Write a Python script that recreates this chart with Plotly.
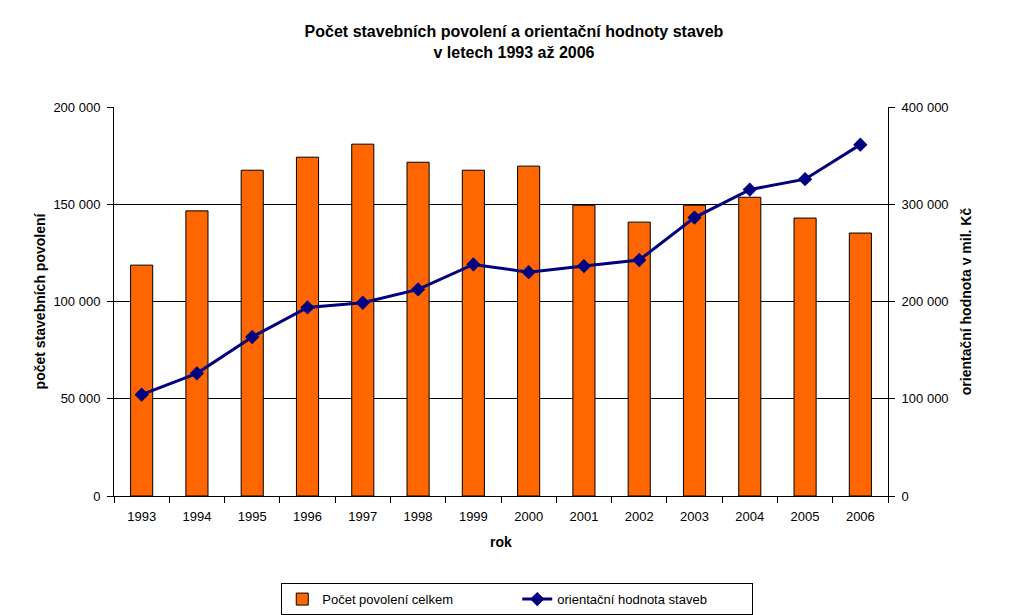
import plotly.graph_objects as go

years = ["1993", "1994", "1995", "1996", "1997", "1998", "1999",
         "2000", "2001", "2002", "2003", "2004", "2005", "2006"]
permits = [118700, 146600, 167500, 174200, 180900, 171600, 167500,
           169600, 149500, 140800, 149500, 153600, 142900, 135200]
value_mil = [104200, 126100, 163500, 193900, 198700, 212400, 238100,
             230200, 236400, 242600, 286300, 315100, 325800, 361300]

left_ticks = [0, 50000, 100000, 150000, 200000]
right_ticks = [0, 100000, 200000, 300000, 400000]

font = "Liberation Sans, Arial, sans-serif"

fig = go.Figure()
fig.add_trace(go.Bar(
    x=years, y=permits, name="Počet povolení celkem",
    marker=dict(color="#FF6600", line=dict(color="black", width=1)),
    width=0.4, yaxis="y"))
fig.add_trace(go.Scatter(
    x=years, y=value_mil, name="orientační hodnota staveb",
    mode="lines+markers", yaxis="y2",
    line=dict(color="#000080", width=3),
    marker=dict(symbol="diamond", size=11, color="#000080")))

fig.update_layout(
    width=1012, height=607,
    margin=dict(l=106, r=132, t=99, b=119, autoexpand=False),
    paper_bgcolor="white", plot_bgcolor="white",
    separators=". ",
    font=dict(family=font, size=12, color="black"),
    title=dict(text="<b>Počet stavebních povolení a orientační hodnoty staveb<br>v letech 1993 až 2006</b>",
               x=0.5, xanchor="center", y=0.952, yanchor="top",
               font=dict(family=font, size=16, color="black")),
    xaxis=dict(type="category", range=[-0.5, 13.5], tickson="boundaries",
               ticks="outside", ticklen=6, automargin=False,
               tickcolor="black", showline=True, linecolor="black", linewidth=1,
               showgrid=False, ticklabelstandoff=8,
               title=dict(text="<b>rok</b>", standoff=14),
               tickfont=dict(size=13)),
    yaxis=dict(range=[0, 200000], tickvals=left_ticks, tickformat=",d",
               showgrid=True, gridcolor="black", gridwidth=1, automargin=False,
               showline=True, linecolor="black", linewidth=1,
               ticks="outside", ticklen=6, tickcolor="black", zeroline=False,
               ticklabelstandoff=4, tickfont=dict(size=13),
               title=dict(text="<b>počet stavebních povolení</b>", standoff=4)),
    yaxis2=dict(range=[0, 400000], tickvals=right_ticks, tickformat=",d",
                overlaying="y", side="right", showgrid=False, automargin=False,
                showline=True, linecolor="black", linewidth=1,
                ticks="outside", ticklen=6, tickcolor="black", zeroline=False,
                ticklabelstandoff=4, tickfont=dict(size=13),
                title=dict(text="<b>orientační hodnota v mil. Kč</b>", standoff=13)),
    legend=dict(orientation="h", x=0.521, xanchor="center", y=-0.224, yanchor="top",
                bordercolor="black", borderwidth=1, bgcolor="white",
                entrywidth=190, font=dict(size=13)),
    bargap=0.6,
)

fig.write_html("out.html")
